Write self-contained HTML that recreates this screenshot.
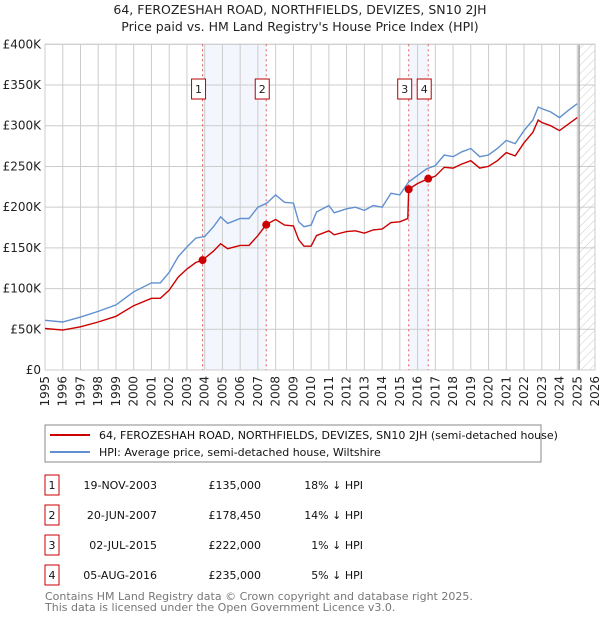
<!DOCTYPE html>
<html><head><meta charset="utf-8"><style>
body{margin:0;background:#fff;}
svg text{font-family:"DejaVu Sans","Liberation Sans",sans-serif;}
</style></head><body>
<svg id="chart" width="600" height="620" viewBox="0 0 600 620" xmlns="http://www.w3.org/2000/svg">
<defs>
<pattern id="hatch" width="6" height="6" patternUnits="userSpaceOnUse" patternTransform="rotate(45)">
<line x1="0" y1="0" x2="0" y2="6" stroke="#bbb" stroke-width="0.8"/>
</pattern>
</defs>
<text x="300" y="14" text-anchor="middle" font-size="12.5" fill="#222">64, FEROZESHAH ROAD, NORTHFIELDS, DEVIZES, SN10 2JH</text>
<text x="300" y="31" text-anchor="middle" font-size="12.5" fill="#222">Price paid vs. HM Land Registry's House Price Index (HPI)</text>
<g id="plot"></g>
<g>
<rect x="45" y="425" width="496" height="37" fill="#fff" stroke="#888"/>
<line x1="50" y1="435" x2="90" y2="435" stroke="#cc0000" stroke-width="2"/>
<text x="99" y="439" font-size="11" fill="#111">64, FEROZESHAH ROAD, NORTHFIELDS, DEVIZES, SN10 2JH (semi-detached house)</text>
<line x1="50" y1="452" x2="90" y2="452" stroke="#6090d0" stroke-width="2"/>
<text x="99" y="456" font-size="11" fill="#111">HPI: Average price, semi-detached house, Wiltshire</text>
</g>
<g id="table"></g>
<text x="45" y="600" font-size="11" fill="#777">Contains HM Land Registry data © Crown copyright and database right 2025.</text>
<text x="45" y="611" font-size="11" fill="#777">This data is licensed under the Open Government Licence v3.0.</text>
</svg>
<script>
const hpiYears=[1995,1996,1997,1998,1999,2000,2001,2001.5,2002,2002.5,2003,2003.5,2004,2004.5,2004.9,2005.3,2006,2006.5,2007,2007.5,2008,2008.5,2009,2009.3,2009.6,2010,2010.3,2011,2011.3,2012,2012.5,2013,2013.5,2014,2014.5,2015,2015.5,2016,2016.5,2017,2017.5,2018,2018.5,2019,2019.5,2020,2020.5,2021,2021.5,2022,2022.5,2022.8,2023,2023.5,2024,2024.5,2025];
const hpiValues=[61,59,65,72,80,96,107,107,120,139,151,162,164,176,188,180,186,186,200,205,215,206,205,182,176,178,194,202,193,198,200,196,202,200,217,215,231,239,247,251,264,262,268,272,262,264,272,282,278,294,307,323,321,317,310,319,327];
const priceYears=[1995,1996,1997,1998,1999,2000,2001,2001.5,2002,2002.5,2003,2003.5,2003.88,2004.5,2004.9,2005.3,2006,2006.5,2007,2007.47,2008,2008.5,2009,2009.3,2009.6,2010,2010.3,2011,2011.3,2012,2012.5,2013,2013.5,2014,2014.5,2015,2015.45,2015.5,2016,2016.6,2017,2017.5,2018,2018.5,2019,2019.5,2020,2020.5,2021,2021.5,2022,2022.5,2022.8,2023,2023.5,2024,2024.5,2025];
const priceValues=[51,49,53,59,66,79,88,88,98,114,124,132,135,146,155,149,153,153,165,178.45,185,178,177,160,152,152,165,171,166,170,171,168,172,173,181,182,186,222,229,235,238,249,248,253,257,248,250,257,267,263,279,292,307,304,300,294,302,310];
const saleYears=[2003.88,2007.47,2015.5,2016.6];
const saleValues=[135,178.45,222,235];
const saleLabels=["1","2","3","4"];
const saleDates=["19-NOV-2003","20-JUN-2007","02-JUL-2015","05-AUG-2016"];
const salePrices=["£135,000","£178,450","£222,000","£235,000"];
const saleDiffs=["18% ↓ HPI","14% ↓ HPI","1% ↓ HPI","5% ↓ HPI"];
const yTicks=[0,50,100,150,200,250,300,350,400];
const yTickLabels=["£0","£50K","£100K","£150K","£200K","£250K","£300K","£350K","£400K"];
const xTicks=[1995,1996,1997,1998,1999,2000,2001,2002,2003,2004,2005,2006,2007,2008,2009,2010,2011,2012,2013,2014,2015,2016,2017,2018,2019,2020,2021,2022,2023,2024,2025,2026];

const X0=45,X1=595,Y0=370,Y1=44.3;
const xs=y=>X0+(y-1995)/(2026-1995)*(X1-X0);
const ys=v=>Y0-v/400*(Y0-Y1);
const NS="http://www.w3.org/2000/svg";
const plot=document.getElementById('plot');
function mk(t,a,p){const e=document.createElementNS(NS,t);for(const k in a)e.setAttribute(k,a[k]);(p||plot).appendChild(e);return e;}

for(let i=0;i<4;i+=2){
const r=mk('rect',{x:xs(saleYears[i]),y:Y1,width:xs(saleYears[i+1])-xs(saleYears[i]),height:Y0-Y1,fill:'#f3f6fd'});


}
yTicks.forEach((t,i)=>{
const l=mk('line',{x1:X0,x2:X1,y1:ys(t),y2:ys(t),stroke:'#ccc','stroke-width':1});


const tx=mk('text',{x:X0-4,y:ys(t)+4,'text-anchor':'end','font-size':12,fill:'#222'});
tx.textContent=yTickLabels[i];


});
xTicks.forEach(t=>{
const l=mk('line',{x1:xs(t),x2:xs(t),y1:Y1,y2:Y0,stroke:'#ccc','stroke-width':1});


const tx=mk('text',{x:0,y:0,'text-anchor':'end','font-size':12,fill:'#222',transform:`translate(${xs(t)+4},${Y0+6}) rotate(-90)`});
tx.textContent=t;


});
const hx=xs(2025.1);
const h=mk('rect',{x:hx,y:Y1,width:X1-hx,height:Y0-Y1,fill:'url(#hatch)'});


const hl=mk('line',{x1:hx,x2:hx,y1:Y1,y2:Y0,stroke:'#888','stroke-width':1.2});


const bd=mk('rect',{x:X0,y:Y1,width:X1-X0,height:Y0-Y1,fill:'none',stroke:'#ccc'});


saleYears.forEach(y=>{
const l=mk('line',{x1:xs(y),x2:xs(y),y1:Y1,y2:Y0,stroke:'#e06060','stroke-width':1,'stroke-dasharray':'2,3'});


});
function pts(xa,va){return xa.map((y,i)=>xs(y).toFixed(1)+','+ys(va[i]).toFixed(1)).join(' ');}
const hp=mk('polyline',{points:pts(hpiYears,hpiValues),fill:'none',stroke:'#6090d0','stroke-width':1.4});


const pp=mk('polyline',{points:pts(priceYears,priceValues),fill:'none',stroke:'#cc0000','stroke-width':1.4});


saleYears.forEach((y,i)=>{
const c=mk('circle',{cx:xs(y),cy:ys(saleValues[i]),r:4,fill:'#cc0000'});


const b=mk('rect',{x:xs(y)-11,y:79,width:14,height:20,fill:'#fff',stroke:'#b00'});


const t=mk('text',{x:xs(y)-4,y:93,'text-anchor':'middle','font-size':11,fill:'#222'});
t.textContent=saleLabels[i];


});
const tb=document.getElementById('table');
saleLabels.forEach((s,i)=>{
const cy=485+i*30;
const b=mk('rect',{x:45,y:cy-10,width:14,height:20,fill:'#fff',stroke:'#cc0000'},tb);


const vals=[[52,s,'middle'],[157,saleDates[i],'end'],[261,salePrices[i],'end'],[363,saleDiffs[i],'end']];
vals.forEach(v=>{
const t=mk('text',{x:v[0],y:cy+4,'text-anchor':v[2],'font-size':11,fill:'#111'},tb);
t.textContent=v[1];


});
});
</script>
</body></html>
